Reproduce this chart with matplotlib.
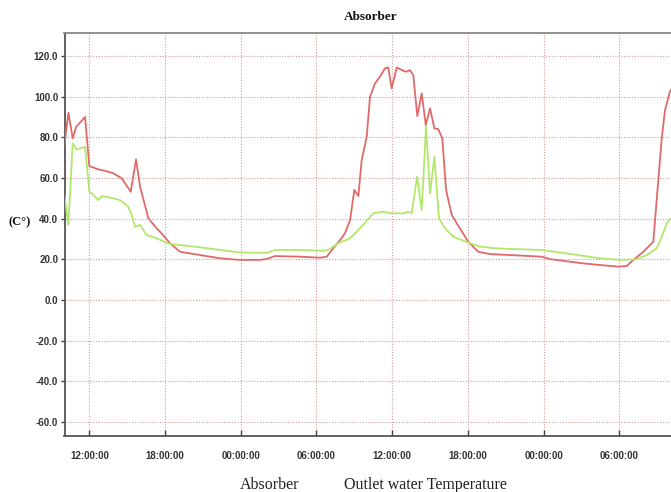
import matplotlib
matplotlib.use("Agg")
import matplotlib.pyplot as plt

# Hours since 00:00 of day 1
absorber_t = [10.0, 10.34, 10.68, 10.95, 11.66, 12.0, 12.71, 13.24, 13.90, 14.57, 15.28, 15.70,
              16.02, 16.68, 17.34, 17.60, 18.39, 19.19, 20.77, 22.36, 23.94, 25.53, 26.06, 26.71,
              28.70, 30.28, 30.81, 31.33, 31.87, 32.26, 32.66, 33.00, 33.32, 33.58, 33.98, 34.24,
              34.64, 35.03, 35.43, 35.69, 35.96, 36.36, 36.88, 37.10, 37.41, 37.67, 37.99, 38.34,
              38.66, 39.00, 39.34, 39.65, 39.97, 40.27, 40.72, 41.37, 42.03, 42.82, 43.75, 45.34,
              47.85, 48.51, 51.14, 52.47, 53.92, 54.58, 55.11, 55.90, 56.69, 57.36, 57.62, 58.01,
              58.6]
absorber_v = [75, 92, 79.5, 85, 90, 65.8, 64.2, 63.5, 62.3, 59.8, 53.2, 69.1,
              55.7, 40.1, 35.2, 33.6, 27.9, 23.7, 22.1, 20.5, 19.7, 19.7, 20.2, 21.6,
              21.3, 20.8, 21.3, 25.4, 29.5, 32.8, 39.3, 54.1, 51.1, 68.8, 80.2, 99.9,
              106.5, 109.8, 113.9, 114.3, 104, 114.3, 112.7, 112.2, 113, 110.6, 90.4, 101.6,
              86, 94.2, 84.4, 84, 79.5, 54.1, 41.8, 35.2, 28.6, 23.7, 22.6, 22.1,
              21.3, 20.1, 18.0, 17.2, 16.4, 16.7, 19.7, 23.7, 28.6, 79.5, 93.4, 102.4,
              108]

outlet_t = [10.0, 10.34, 10.68, 11.0, 11.66, 12.0, 12.32, 12.71, 12.98, 13.90, 14.43, 15.09,
            15.36, 15.62, 16.02, 16.55, 17.34, 18.39, 19.19, 20.77, 22.36, 23.94, 25.53, 26.06,
            26.71, 28.70, 30.54, 30.94, 31.73, 32.66, 33.45, 34.50, 35.17, 35.96, 36.88, 37.28,
            37.55, 37.97, 38.34, 38.68, 39.00, 39.34, 39.71, 40.19, 40.84, 42.03, 42.96, 44.28,
            45.34, 47.85, 49.83, 52.47, 54.05, 55.38, 56.17, 56.96, 57.48, 57.75, 58.01, 58.6]
outlet_v = [52.6, 36.9, 77, 74, 75.3, 53.2, 51.6, 49.1, 51.1, 50, 49.1, 45.8,
            41.8, 36, 36.9, 31.9, 30.3, 27.5, 27, 25.9, 24.6, 23.4, 23.2, 23.2,
            24.6, 24.6, 24.2, 24.6, 27.9, 30.3, 35.2, 42.6, 43.4, 42.6, 42.6, 43.4,
            42.6, 60.6, 44.2, 85.2, 52.4, 70.4, 40.1, 35.2, 31.1, 28.2, 26.2, 25.4,
            25.1, 24.6, 22.9, 20.5, 19.7, 20.0, 22.1, 25.4, 32.8, 37.7, 39.7, 41]

xtick_pos = [12, 18, 24, 30, 36, 42, 48, 54]
xtick_labels = ["12:00:00", "18:00:00", "00:00:00", "06:00:00",
                "12:00:00", "18:00:00", "00:00:00", "06:00:00"]
ytick_pos = [-60, -40, -20, 0, 20, 40, 60, 80, 100, 120]

W, H = 671, 492
fig = plt.figure(figsize=(W / 100, H / 100), dpi=100)
left, right, top, bottom = 64.5, 677, 33.5, 435.7
ax = fig.add_axes([left / W, 1 - bottom / H, (right - left) / W, (bottom - top) / H])

ax.plot(absorber_t, absorber_v, color="#e06a6a", lw=1.3, zorder=3)
ax.plot(outlet_t, outlet_v, color="#b2e86a", lw=1.3, zorder=3)

ax.set_xlim(10.03, 58.57)
ax.set_ylim(-66.7, 131.0)
ax.set_xticks(xtick_pos)
ax.set_xticklabels(xtick_labels)
ax.set_yticks(ytick_pos)
ax.set_yticklabels([f"{v:.1f}" for v in ytick_pos])

for lab in ax.get_xticklabels() + ax.get_yticklabels():
    lab.set_family("Liberation Sans")
    lab.set_fontsize(7)
    lab.set_fontweight("bold")
    lab.set_color("#333333")

ax.tick_params(axis="y", direction="out", length=3, width=1, color="#444444", pad=1.5)
ax.tick_params(axis="x", direction="in", length=4, width=1, color="#444444", pad=11)

ax.grid(True, color="#d49a9a", linestyle=(0, (1, 1.5)), linewidth=0.8, zorder=1)

for s in ["left", "bottom"]:
    ax.spines[s].set_color("#555555")
    ax.spines[s].set_linewidth(1.3)
ax.spines["top"].set_color("#888888")
ax.spines["top"].set_linewidth(1.3)
ax.spines["right"].set_visible(False)

fig.text(371 / W, 1 - 17 / H, "Absorber", family="Liberation Serif", weight="bold",
         fontsize=9.5, ha="center", va="center", color="#111111")
fig.text(20 / W, 1 - 222 / H, "(C\u00b0)", family="Liberation Serif", weight="bold",
         fontsize=9, ha="center", va="center", color="#111111")
fig.text(240 / W, 1 - 485 / H, "Absorber", family="Liberation Serif",
         fontsize=11.5, ha="left", va="center", color="#222222")
fig.text(344 / W, 1 - 485 / H, "Outlet water Temperature", family="Liberation Serif",
         fontsize=11.5, ha="left", va="center", color="#222222")

fig.savefig("out.png", dpi=100)
